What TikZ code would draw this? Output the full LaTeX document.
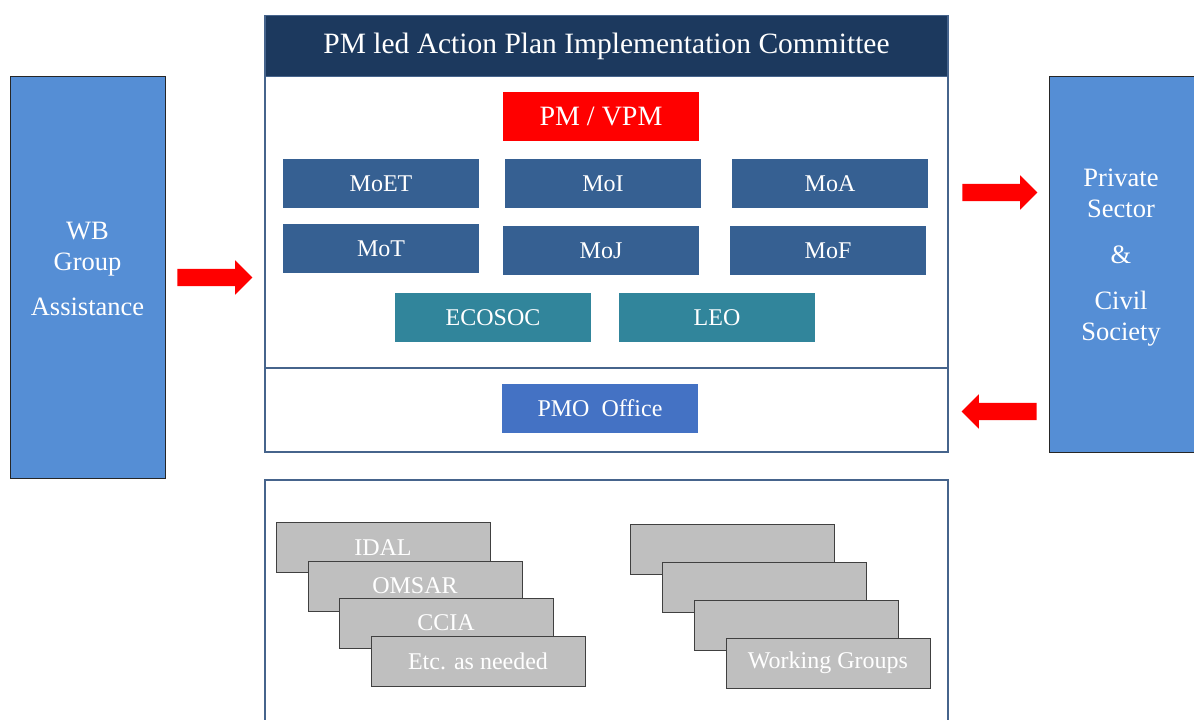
\documentclass[tikz,border=0pt]{standalone}
\usepackage{fontspec}
\setmainfont{Liberation Serif}
\usetikzlibrary{positioning,shapes.arrows}

\definecolor{navy}{RGB}{28,57,94}
\definecolor{framec}{RGB}{70,100,140}
\definecolor{sideblue}{RGB}{85,142,213}
\definecolor{minblue}{RGB}{54,96,146}
\definecolor{tealc}{RGB}{49,133,155}
\definecolor{pmoblue}{RGB}{68,114,196}
\definecolor{greybox}{RGB}{191,191,191}

\tikzset{
    frame/.style={draw=framec, line width=1.5pt},
    sidebox/.style={draw=black!85, line width=1pt, fill=sideblue,
        minimum width=155pt, inner sep=0pt},
    sidetext/.style={text=white, align=center,
        font=\fontsize{26.5}{31}\selectfont},
    minbox/.style={fill=minblue, text=white, inner sep=0pt,
        minimum width=196pt, minimum height=49pt,
        font=\fontsize{24}{28}\selectfont},
    agency/.style={draw=black!75, line width=1pt, fill=greybox, text=white,
        inner sep=0pt, minimum height=50pt,
        font=\fontsize{24}{28}\selectfont},
    bigarrow/.style={single arrow, fill=red, inner sep=8.5pt,
        single arrow head extend=8.5pt, minimum height=75pt}
}

\begin{document}
\begin{tikzpicture}[x=1pt,y=-1pt]
\useasboundingbox (0,0) rectangle (1194,720);

    % committee frame
    \draw[frame, fill=white] (265,76) rectangle (948,368);
    \draw[frame, fill=white] (265,368) rectangle (948,452);
    \node[frame, fill=navy, text=white, inner sep=0pt,
        minimum width=683pt, minimum height=61pt,
        font=\fontsize{29.5}{33}\selectfont] (head) at (606.5,46)
        {PM led Action Plan Implementation Committee};

    % ministries
    \node[minbox, fill=red, font=\fontsize{28}{32}\selectfont] (pm) at (601,116.5) {PM / VPM};
    \node[minbox] (moet) at (381,183.5) {MoET};
    \node[minbox] (moi) at (603,183.5) {MoI};
    \node[minbox] (moa) at (830,183.5) {MoA};
    \node[minbox] (mot) at (381,248.5) {MoT};
    \node[minbox] (moj) at (601,250.5) {MoJ};
    \node[minbox] (mof) at (828,250.5) {MoF};
    \node[minbox, fill=tealc] (ecosoc) at (493,317.5) {ECOSOC};
    \node[minbox, fill=tealc] (leo) at (717,317.5) {LEO};
    \node[minbox, fill=pmoblue] (pmo) at (600,408.5) {PMO\ \ Office};

    % side boxes
    \node[sidebox, minimum height=402pt] (wb) at (87.5,277) {};
    \node[sidetext] (wbtext) at (87.5,269) {WB\\Group\\[14pt]Assistance};
    \node[sidebox, minimum height=376pt] (ps) at (1126.5,264) {};
    \node[sidetext] (pstext) at (1121,258) {Private\\Sector\\[15pt]\&\\[15pt]Civil\\Society};

    % red arrows
    \node[bigarrow] (toplan) at (210.5,277.5) {};
    \node[bigarrow] (toprivate) at (995.5,192.5) {};
    \node[bigarrow, shape border rotate=180] (fromprivate) at (1003.5,411.5) {};

    % agencies and working groups
    \draw[frame] (265,730) -- (265,480) -- (948,480) -- (948,730);
    \node[agency, minimum width=214pt] (idal) at (383,547.5) {IDAL};
    \node[agency, minimum width=214pt] (omsar) at (415,586) {OMSAR};
    \node[agency, minimum width=214pt] (ccia) at (446,623) {CCIA};
    \node[agency, minimum width=214pt] (etc) at (478,661) {Etc. as needed};
    \node[agency, minimum width=204pt] (wga) at (732,549.5) {};
    \node[agency, minimum width=204pt] (wgb) at (764,587.5) {};
    \node[agency, minimum width=204pt] (wgc) at (796,625.5) {};
    \node[agency, minimum width=204pt] (wgd) at (828,663) {Working Groups};
\end{tikzpicture}
\end{document}
